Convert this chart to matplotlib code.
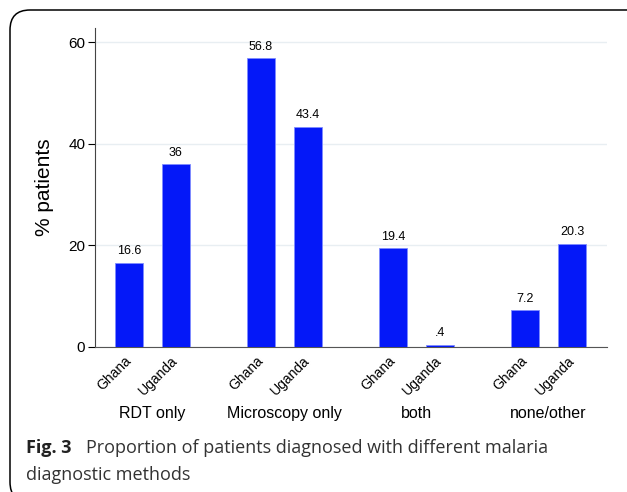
import matplotlib
matplotlib.use("Agg")
import matplotlib.pyplot as plt
from matplotlib.patches import FancyBboxPatch
import numpy as np

methods = ["RDT only", "Microscopy only", "both", "none/other"]
countries = ["Ghana", "Uganda"]
ghana = [16.6, 56.8, 19.4, 7.2]
uganda = [36, 43.4, 0.4, 20.3]
value_labels = [["16.6", "36"], ["56.8", "43.4"], ["19.4", ".4"], ["7.2", "20.3"]]
yticks = [0, 20, 40, 60]

W, H = 627, 492
fig = plt.figure(figsize=(W / 100, H / 100), dpi=100)

# rounded frame around the figure panel (inches)
frame = FancyBboxPatch((0.10, -0.10), 6.40, 4.92,
                       boxstyle="round,pad=0,rounding_size=0.2",
                       transform=fig.dpi_scale_trans, fill=False,
                       edgecolor="black", linewidth=1.1)
fig.patches.append(frame)

ax = fig.add_axes([95 / W, 1 - 347 / H, 512 / W, 319 / H])

step = 2.809
width = 0.596
group_pos = np.arange(len(methods)) * step
pos = []
vals = []
labs = []
ticklabs = []
for i in range(len(methods)):
    pos += [group_pos[i], group_pos[i] + 1]
    vals += [ghana[i], uganda[i]]
    labs += value_labels[i]
    ticklabs += countries

ax.bar(pos, vals, width=width, color="#0418f8", edgecolor="#7f8cff", linewidth=0.6, zorder=3)
for x, v, t in zip(pos, vals, labs):
    ax.annotate(t, (x, v), xytext=(0, 4), textcoords="offset points",
                ha="center", va="bottom", fontsize=9, family="Liberation Sans")

ax.set_xlim(pos[0] - 0.723, pos[-1] + 0.745)
ax.set_ylim(0, 62.8)
ax.set_yticks(yticks)
ax.set_yticklabels([str(t) for t in yticks], fontsize=11, family="Liberation Sans")
ax.yaxis.grid(True, color="#e8eef2", linewidth=1, zorder=0)
ax.tick_params(axis="y", length=5, width=0.8, pad=2)
ax.set_xticks(pos)
ax.set_xticklabels(ticklabs, rotation=45, ha="right", va="center",
                   rotation_mode="anchor", fontsize=10, family="Liberation Sans")
ax.tick_params(axis="x", length=0, pad=8)
for s in ["top", "right"]:
    ax.spines[s].set_visible(False)
ax.spines["left"].set_color("#444444")
ax.spines["bottom"].set_color("#555555")
ax.set_ylabel("% patients", fontsize=15, family="Liberation Sans", labelpad=10)

for i, m in enumerate(methods):
    ax.text(group_pos[i] + 0.5, -13.0, m, ha="center", va="center",
            fontsize=11.5, family="Liberation Sans")

fig.text(26 / W, 1 - 448 / H, "Fig. 3", fontsize=13, fontweight="bold",
         family="Open Sans", va="center", color="#222222")
fig.text(86 / W, 1 - 448 / H, "Proportion of patients diagnosed with different malaria",
         fontsize=13, family="Open Sans", va="center", color="#333333")
fig.text(26 / W, 1 - 475 / H, "diagnostic methods",
         fontsize=13, family="Open Sans", va="center", color="#333333")

fig.savefig("out.png", dpi=100)
